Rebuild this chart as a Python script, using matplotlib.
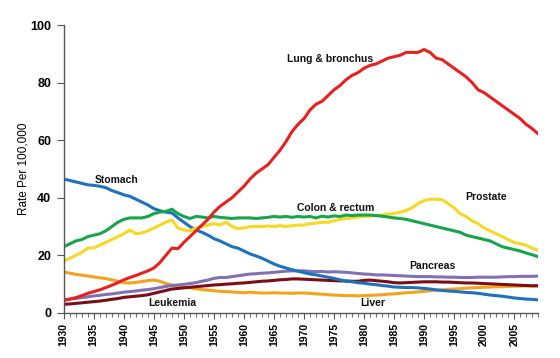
import numpy as np
import matplotlib
matplotlib.use('Agg')
import matplotlib.pyplot as plt

plt.rcParams['font.family'] = ['Liberation Sans', 'DejaVu Sans']

years = list(range(1930, 2010))

# Death rates per 100,000 (one value per year)
lung = [4.3, 4.8, 5.3, 6.0, 6.8, 7.4, 8.0, 8.8, 9.6, 10.5,
        11.5, 12.3, 13.0, 13.8, 14.6, 15.6, 17.5, 20.0, 22.5, 22.3,
        24.5, 26.5, 28.5, 30.5, 32.5, 35.0, 37.0, 38.5, 40.0, 42.0,
        44.0, 46.5, 48.5, 50.0, 51.5, 54.0, 56.5, 59.5, 63.0, 65.5,
        67.5, 70.5, 72.5, 73.5, 75.5, 77.5, 79.0, 81.0, 82.5, 83.5,
        85.0, 86.0, 86.5, 87.5, 88.5, 89.0, 89.5, 90.5, 90.5, 90.5,
        91.5, 90.5, 88.5, 88.0, 86.5, 85.0, 83.5, 82.0, 80.0, 77.5,
        76.5, 75.0, 73.5, 72.0, 70.5, 69.0, 67.5, 65.5, 64.0, 62.2]
stomach = [46.5, 46.0, 45.5, 45.0, 44.5, 44.3, 44.0, 43.5, 42.5, 41.8,
           41.0, 40.5, 39.5, 38.5, 37.5, 36.2, 35.5, 35.0, 34.7, 33.0,
           31.5, 30.0, 28.8, 28.0, 27.0, 25.8, 25.0, 24.0, 23.0, 22.5,
           21.5, 20.5, 19.8, 19.0, 18.0, 17.0, 16.2, 15.6, 15.0, 14.5,
           14.0, 13.5, 13.2, 12.8, 12.4, 12.0, 11.5, 11.0, 10.8, 10.5,
           10.3, 10.0, 9.8, 9.5, 9.3, 9.0, 8.9, 8.8, 8.8, 8.7,
           8.5, 8.3, 8.0, 7.8, 7.6, 7.5, 7.3, 7.1, 7.0, 6.8,
           6.5, 6.2, 6.0, 5.8, 5.5, 5.2, 5.0, 4.8, 4.7, 4.5]
colon = [23.0, 24.0, 25.0, 25.5, 26.5, 27.0, 27.5, 28.5, 30.0, 31.5,
         32.5, 33.0, 33.0, 33.0, 33.5, 34.5, 35.0, 35.3, 36.0, 34.5,
         33.5, 32.8, 33.5, 33.3, 33.0, 33.5, 33.2, 33.0, 32.8, 33.0,
         33.0, 33.0, 32.8, 33.0, 33.2, 33.5, 33.3, 33.5, 33.2, 33.5,
         33.3, 33.5, 33.0, 33.6, 33.3, 33.7, 33.5, 34.0, 33.8, 34.0,
         34.0, 34.0, 33.8, 33.6, 33.3, 33.0, 32.8, 32.5, 32.0, 31.5,
         31.0, 30.5, 30.0, 29.5, 29.0, 28.5, 28.0, 27.0, 26.5, 26.0,
         25.5, 25.0, 24.0, 23.0, 22.5, 22.0, 21.5, 20.8, 20.2, 19.5]
prostate = [18.0, 19.0, 20.0, 21.0, 22.5, 22.6, 23.5, 24.5, 25.5, 26.5,
            27.5, 28.8, 27.5, 27.8, 28.5, 29.5, 30.5, 31.5, 32.3, 29.5,
            28.8, 28.5, 29.5, 30.0, 30.5, 31.0, 30.5, 31.5, 30.0, 29.3,
            29.5, 30.0, 30.0, 30.0, 30.2, 30.0, 30.3, 30.0, 30.3, 30.5,
            30.5, 31.0, 31.2, 31.5, 31.5, 32.0, 32.5, 32.8, 33.0, 33.3,
            33.5, 33.6, 33.8, 34.0, 34.3, 34.5, 35.0, 35.5, 36.5, 38.0,
            39.0, 39.5, 39.5, 39.3, 38.0, 36.5, 34.5, 33.5, 32.0, 31.0,
            29.5, 28.5, 27.5, 26.5, 25.5, 24.5, 24.0, 23.5, 22.5, 21.8]
pancreas = [4.5, 4.8, 5.0, 5.3, 5.6, 5.9, 6.1, 6.4, 6.6, 6.9,
            7.2, 7.4, 7.6, 7.9, 8.1, 8.4, 8.8, 9.2, 9.5, 9.7,
            9.9, 10.2, 10.5, 11.0, 11.4, 12.0, 12.3, 12.3, 12.6, 12.9,
            13.2, 13.5, 13.6, 13.8, 13.9, 14.1, 14.3, 14.5, 14.6, 14.6,
            14.6, 14.4, 14.3, 14.4, 14.2, 14.3, 14.2, 14.1, 13.9, 13.7,
            13.5, 13.4, 13.2, 13.2, 13.1, 13.0, 12.9, 12.8, 12.7, 12.6,
            12.6, 12.6, 12.5, 12.5, 12.4, 12.4, 12.3, 12.3, 12.3, 12.4,
            12.4, 12.4, 12.4, 12.5, 12.6, 12.6, 12.7, 12.7, 12.7, 12.8]
leukemia = [3.0, 3.1, 3.3, 3.5, 3.7, 3.9, 4.1, 4.4, 4.7, 5.0,
            5.4, 5.6, 5.8, 6.0, 6.3, 6.8, 7.3, 7.8, 8.3, 8.5,
            8.7, 8.9, 9.1, 9.3, 9.5, 9.7, 9.8, 10.0, 10.1, 10.3,
            10.4, 10.6, 10.8, 11.0, 11.1, 11.3, 11.5, 11.6, 11.8, 11.8,
            11.7, 11.6, 11.5, 11.4, 11.3, 11.2, 11.1, 11.1, 11.0, 11.0,
            11.3, 11.4, 11.2, 11.0, 10.8, 10.5, 10.4, 10.5, 10.6, 10.7,
            10.8, 10.8, 10.8, 10.7, 10.7, 10.6, 10.5, 10.4, 10.4, 10.3,
            10.2, 10.1, 10.0, 9.9, 9.8, 9.7, 9.6, 9.5, 9.4, 9.4]
liver = [14.2, 13.8, 13.4, 13.1, 12.8, 12.5, 12.2, 11.9, 11.5, 11.0,
         10.5, 10.4, 10.6, 10.9, 11.2, 11.4, 11.0, 10.2, 9.7, 9.3,
         9.0, 8.7, 8.4, 8.1, 7.9, 7.7, 7.5, 7.4, 7.3, 7.1,
         7.0, 7.2, 7.0, 6.9, 6.9, 7.0, 6.9, 6.9, 6.8, 6.9,
         6.9, 6.8, 6.6, 6.5, 6.3, 6.2, 6.1, 6.0, 6.0, 5.9,
         6.0, 6.1, 6.2, 6.3, 6.5, 6.6, 6.8, 7.0, 7.1, 7.3,
         7.5, 7.7, 7.9, 8.0, 8.2, 8.3, 8.4, 8.6, 8.7, 8.8,
         8.9, 9.0, 9.1, 9.1, 9.2, 9.3, 9.3, 9.4, 9.4, 9.5]

# draw order: back to front
series = [
    (liver, '#f5a21c'),
    (leukemia, '#7b0d17'),
    (pancreas, '#8170b3'),
    (stomach, '#1c72bf'),
    (prostate, '#f7d823'),
    (colon, '#17a54b'),
    (lung, '#e8211f'),
]

labels = [
    ('Lung & bronchus', 1974.3, 88.3),
    ('Stomach', 1938.8, 46.0),
    ('Colon & rectum', 1975.2, 36.6),
    ('Prostate', 2000.3, 40.2),
    ('Pancreas', 1991.3, 16.2),
    ('Liver', 1981.5, 3.3),
    ('Leukemia', 1948.0, 3.3),
]

fig = plt.figure(figsize=(5.6, 3.58), dpi=100)
ax = fig.add_axes([0.114, 0.126, 0.847, 0.804])

for vals, col in series:
    ax.plot(years, vals, color=col, lw=2.2, solid_capstyle='round')

for txt, x, y in labels:
    ax.text(x, y, txt, ha='center', va='center', fontsize=7.5,
            fontweight='bold', color='#111111')

ax.set_xlim(1930, 2009)
ax.set_ylim(0, 100)
ax.set_xticks(list(range(1930, 2010, 5)))
ax.set_xticks(years, minor=True)
ax.set_xticklabels([str(y) for y in range(1930, 2010, 5)], rotation=90,
                   fontsize=7.5, fontweight='bold')
ax.set_yticks([0, 20, 40, 60, 80, 100])
ax.set_yticklabels(['0', '20', '40', '60', '80', '100'], fontsize=9,
                   fontweight='bold')
ax.set_ylabel('Rate Per 100,000', fontsize=8.5)
ax.yaxis.set_label_coords(-0.072, 0.5)

for s in ['top', 'right']:
    ax.spines[s].set_visible(False)
for s in ['left', 'bottom']:
    ax.spines[s].set_color('#555555')
    ax.spines[s].set_linewidth(1.0)
ax.tick_params(axis='y', which='major', direction='out', length=5,
               color='#555555', pad=4)
ax.tick_params(axis='x', which='major', direction='out', length=4,
               color='#555555', pad=3)
ax.tick_params(axis='x', which='minor', direction='out', length=3,
               color='#555555')

plt.savefig('out.png', dpi=100)
